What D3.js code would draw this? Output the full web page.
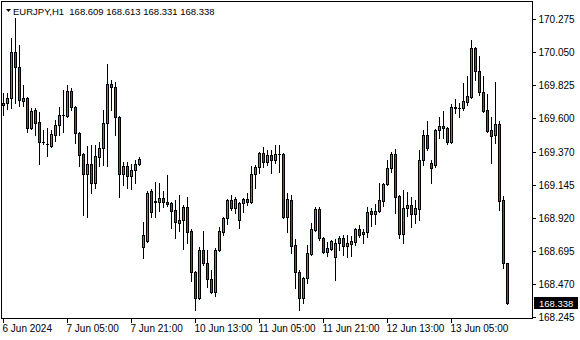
<!DOCTYPE html>
<html>
<head>
<meta charset="utf-8">
<title>EURJPY,H1</title>
<script src="https://cdn.jsdelivr.net/npm/d3@7"></script>
<style>
    body { margin: 0; background: #fff; }
    svg { display: block; font-family: "Liberation Sans", Arial, sans-serif; font-size: 9.5px; }
    .axis text { fill: #000; }
    .axis line { stroke: #000; shape-rendering: crispEdges; }
    .axis path { display: none; }
</style>
</head>
<body>
<script>
    // EURJPY hourly bars, 6 Jun 13:00 .. 13 Jun
    var symbol = "EURJPY,H1";

    var open = [169.689, 169.703, 169.737, 170.049, 169.947, 169.716, 169.737, 169.532, 169.655, 169.573,
        169.437, 169.423, 169.409, 169.484, 169.553, 169.621, 169.614, 169.784, 169.676, 169.498,
        169.355, 169.219, 169.287, 169.158, 169.334, 169.396, 169.567, 169.832, 169.812, 169.607,
        169.219, 169.273, 169.205, 169.246, 169.287, 168.721, 168.762, 169.103, 169.035, 169.028,
        169.056, 169.028, 169.021, 168.973, 168.885, 168.905, 168.994, 168.830, 168.551, 168.374,
        168.701, 168.613, 168.503, 168.415, 168.701, 168.824, 168.919, 169.042, 168.987, 168.905,
        169.021, 169.049, 169.028, 169.219, 169.266, 169.361, 169.301, 169.348, 169.314, 169.355,
        169.355, 168.925, 169.042, 168.735, 168.551, 168.374, 168.510, 168.674, 168.837, 168.980,
        168.783, 168.688, 168.708, 168.653, 168.749, 168.783, 168.728, 168.742, 168.755, 168.844,
        168.810, 168.824, 168.966, 168.946, 168.966, 169.035, 169.151, 169.260, 169.355, 169.069,
        168.810, 168.987, 169.008, 168.946, 168.980, 169.314, 169.484, 169.294, 169.280, 169.518,
        169.546, 169.532, 169.437, 169.669, 169.669, 169.669, 169.709, 169.744, 170.077, 169.920,
        169.778, 169.655, 169.518, 169.484, 169.559, 169.042, 168.609];

    var high = [169.771, 169.771, 170.145, 170.282, 170.098, 169.825, 169.744, 169.669, 169.669, 169.641,
        169.518, 169.532, 169.518, 169.587, 169.676, 169.791, 169.825, 169.805, 169.682, 169.504,
        169.361, 169.409, 169.416, 169.416, 169.437, 169.655, 169.968, 169.859, 169.846, 169.614,
        169.301, 169.301, 169.287, 169.314, 169.334, 168.891, 169.103, 169.117, 169.164, 169.158,
        169.103, 169.212, 169.028, 169.042, 169.076, 169.008, 169.062, 168.844, 168.558, 168.721,
        168.830, 168.701, 168.565, 168.715, 168.858, 168.925, 169.049, 169.076, 169.062, 169.028,
        169.056, 169.090, 169.273, 169.280, 169.368, 169.402, 169.382, 169.382, 169.416, 169.416,
        169.361, 169.090, 169.076, 168.776, 168.565, 168.517, 168.735, 168.885, 168.994, 168.994,
        168.790, 168.755, 168.769, 168.776, 168.796, 168.803, 168.803, 168.796, 168.851, 168.871,
        168.844, 168.994, 168.987, 169.014, 169.158, 169.158, 169.314, 169.368, 169.389, 169.076,
        169.110, 169.096, 169.062, 169.042, 169.382, 169.518, 169.580, 169.314, 169.525, 169.607,
        169.648, 169.539, 169.696, 169.730, 169.703, 169.839, 169.886, 170.132, 170.084, 170.022,
        169.886, 169.764, 169.607, 169.846, 169.580, 169.069, 168.613];

    var low = [169.621, 169.662, 169.669, 169.703, 169.682, 169.682, 169.504, 169.525, 169.484, 169.287,
        169.423, 169.341, 169.402, 169.443, 169.484, 169.504, 169.607, 169.655, 169.430, 169.273,
        168.939, 168.925, 169.090, 169.124, 169.273, 169.280, 169.273, 169.655, 169.484, 169.062,
        169.144, 169.124, 169.117, 169.158, 169.280, 168.646, 168.755, 168.925, 168.925, 168.966,
        168.994, 169.001, 168.851, 168.783, 168.830, 168.708, 168.749, 168.490, 168.292, 168.367,
        168.599, 168.449, 168.408, 168.388, 168.694, 168.803, 168.878, 168.973, 168.953, 168.851,
        168.960, 169.008, 169.021, 169.124, 169.226, 169.266, 169.280, 169.226, 169.294, 169.232,
        168.919, 168.824, 168.681, 168.442, 168.292, 168.340, 168.476, 168.667, 168.830, 168.769,
        168.681, 168.660, 168.701, 168.497, 168.701, 168.667, 168.653, 168.660, 168.735, 168.790,
        168.749, 168.790, 168.864, 168.878, 168.960, 169.001, 169.144, 169.232, 168.953, 168.783,
        168.749, 168.932, 168.858, 168.885, 168.905, 169.280, 169.382, 169.158, 169.266, 169.464,
        169.464, 169.423, 169.430, 169.634, 169.607, 169.655, 169.689, 169.737, 169.859, 169.757,
        169.641, 169.505, 169.294, 169.430, 168.973, 168.579, 168.331];

    var close = [169.703, 169.737, 170.049, 169.947, 169.723, 169.737, 169.532, 169.648, 169.567, 169.437,
        169.435, 169.423, 169.491, 169.553, 169.621, 169.621, 169.784, 169.676, 169.498, 169.348,
        169.219, 169.287, 169.158, 169.341, 169.396, 169.567, 169.832, 169.812, 169.607, 169.219,
        169.273, 169.205, 169.246, 169.287, 169.321, 168.803, 169.090, 168.960, 169.028, 169.056,
        169.028, 169.014, 168.966, 168.891, 168.905, 168.994, 168.824, 168.551, 168.374, 168.701,
        168.613, 168.503, 168.415, 168.701, 168.830, 168.919, 169.042, 168.987, 169.049, 169.021,
        169.049, 169.028, 169.219, 169.266, 169.361, 169.301, 169.348, 169.314, 169.355, 169.353,
        168.925, 169.049, 168.728, 168.551, 168.374, 168.510, 168.681, 168.844, 168.980, 168.783,
        168.688, 168.715, 168.762, 168.749, 168.783, 168.728, 168.749, 168.762, 168.844, 168.803,
        168.824, 168.960, 168.946, 168.966, 169.042, 169.151, 169.260, 169.355, 169.062, 168.810,
        168.987, 169.008, 168.946, 168.987, 169.314, 169.484, 169.396, 169.260, 169.518, 169.546,
        169.532, 169.437, 169.676, 169.676, 169.669, 169.716, 169.750, 170.077, 169.920, 169.778,
        169.648, 169.512, 169.478, 169.559, 169.035, 168.613, 168.338];

    var priceTicks = [170.275, 170.050, 169.825, 169.600, 169.370, 169.145, 168.920, 168.695, 168.470, 168.245];

    // bar index -> label on the time axis (one label every 16 bars)
    var timeTickBars = [0, 16, 32, 48, 64, 80, 96, 112];
    var timeTickLabels = ["6 Jun 2024", "7 Jun 05:00", "7 Jun 21:00", "10 Jun 13:00",
        "11 Jun 05:00", "11 Jun 21:00", "12 Jun 13:00", "13 Jun 05:00"];

    var width = 580, height = 340,
        frame = {left: 1.5, top: 1.5, right: 532.5, bottom: 318.5},
        upColor = "#33a833",
        downColor = "#e01b1b",
        fmt = d3.format(".3f");

    var svg = d3.select("body").append("svg")
        .attr("width", width)
        .attr("height", height);

    var n = open.length;
    var x = d3.scaleLinear().domain([0, n - 1]).range([3.5, 3.5 + 4 * (n - 1)]);
    var y = d3.scaleLinear().domain([168.245, 170.275]).range([316.9, 19]);

    var candles = open.map(function (o, i) {
        return {i: i, o: o, h: high[i], l: low[i], c: close[i]};
    });

    function bodyTop(d) { return Math.round(y(Math.max(d.o, d.c))); }
    function bodyH(d) { return Math.round(y(Math.min(d.o, d.c))) - bodyTop(d); }

    // frame
    svg.append("rect")
        .attr("x", frame.left)
        .attr("y", frame.top)
        .attr("width", frame.right - frame.left)
        .attr("height", frame.bottom - frame.top)
        .attr("fill", "none")
        .attr("stroke", "#000")
        .style("shape-rendering", "crispEdges");

    var bodyG = svg.append("g").attr("class", "candles");

    bodyG.selectAll("line.wick")
        .data(candles)
        .enter().append("line")
        .attr("class", "wick")
        .attr("x1", function (d) { return x(d.i); })
        .attr("x2", function (d) { return x(d.i); })
        .attr("y1", function (d) { return Math.round(y(d.h)); })
        .attr("y2", function (d) { return Math.round(y(d.l)) + 1; })
        .attr("stroke", "#000");

    bodyG.selectAll("rect.body")
        .data(candles.filter(function (d) { return bodyH(d) > 0; }))
        .enter().append("rect")
        .attr("class", "body")
        .attr("x", function (d) { return x(d.i) - 1; })
        .attr("y", function (d) { return bodyTop(d) + 0.5; })
        .attr("width", 2)
        .attr("height", bodyH)
        .attr("fill", function (d) { return d.c > d.o ? upColor : downColor; })
        .attr("stroke", "#000");

    // dojis: just a short bar
    bodyG.selectAll("line.doji")
        .data(candles.filter(function (d) { return bodyH(d) <= 0; }))
        .enter().append("line")
        .attr("class", "doji")
        .attr("x1", function (d) { return x(d.i) - 1.5; })
        .attr("x2", function (d) { return x(d.i) + 1.5; })
        .attr("y1", function (d) { return bodyTop(d) + 0.5; })
        .attr("y2", function (d) { return bodyTop(d) + 0.5; })
        .attr("stroke", "#000");

    // price axis on the right
    var yAxis = d3.axisRight(y.copy().interpolate(d3.interpolateRound))
        .tickValues(priceTicks)
        .tickFormat(fmt)
        .tickSize(3)
        .tickPadding(3)
        .offset(0.5);

    svg.append("g")
        .attr("class", "y axis")
        .attr("transform", "translate(" + frame.right + ",0)")
        .call(yAxis);

    // time axis
    var xAxis = d3.axisBottom(x)
        .tickValues(timeTickBars)
        .tickFormat(function (d, i) { return timeTickLabels[i]; })
        .tickSize(4)
        .tickPadding(2)
        .offset(0);

    svg.append("g")
        .attr("class", "x axis")
        .attr("transform", "translate(0," + frame.bottom + ")")
        .call(xAxis)
        .selectAll("text")
        .attr("text-anchor", "start")
        .attr("x", -1);

    // last price marker
    var last = n - 1, lastY = Math.round(y(close[last]));
    svg.append("rect")
        .attr("x", 534)
        .attr("y", lastY - 6)
        .attr("width", 44)
        .attr("height", 12)
        .attr("fill", "#000");
    svg.append("text")
        .attr("x", 539)
        .attr("y", lastY + 3.5)
        .attr("fill", "#fff")
        .text(fmt(close[last]));

    // title
    svg.append("path")
        .attr("d", "M6,9h5l-2.5,3z")
        .attr("fill", "#000");
    svg.append("text")
        .attr("x", 13)
        .attr("y", 15)
        .style("white-space", "pre")
        .attr("fill", "#000")
        .text(symbol + "  " + [open[last], high[last], low[last], close[last]].map(fmt).join(" "));
</script>
</body>
</html>
